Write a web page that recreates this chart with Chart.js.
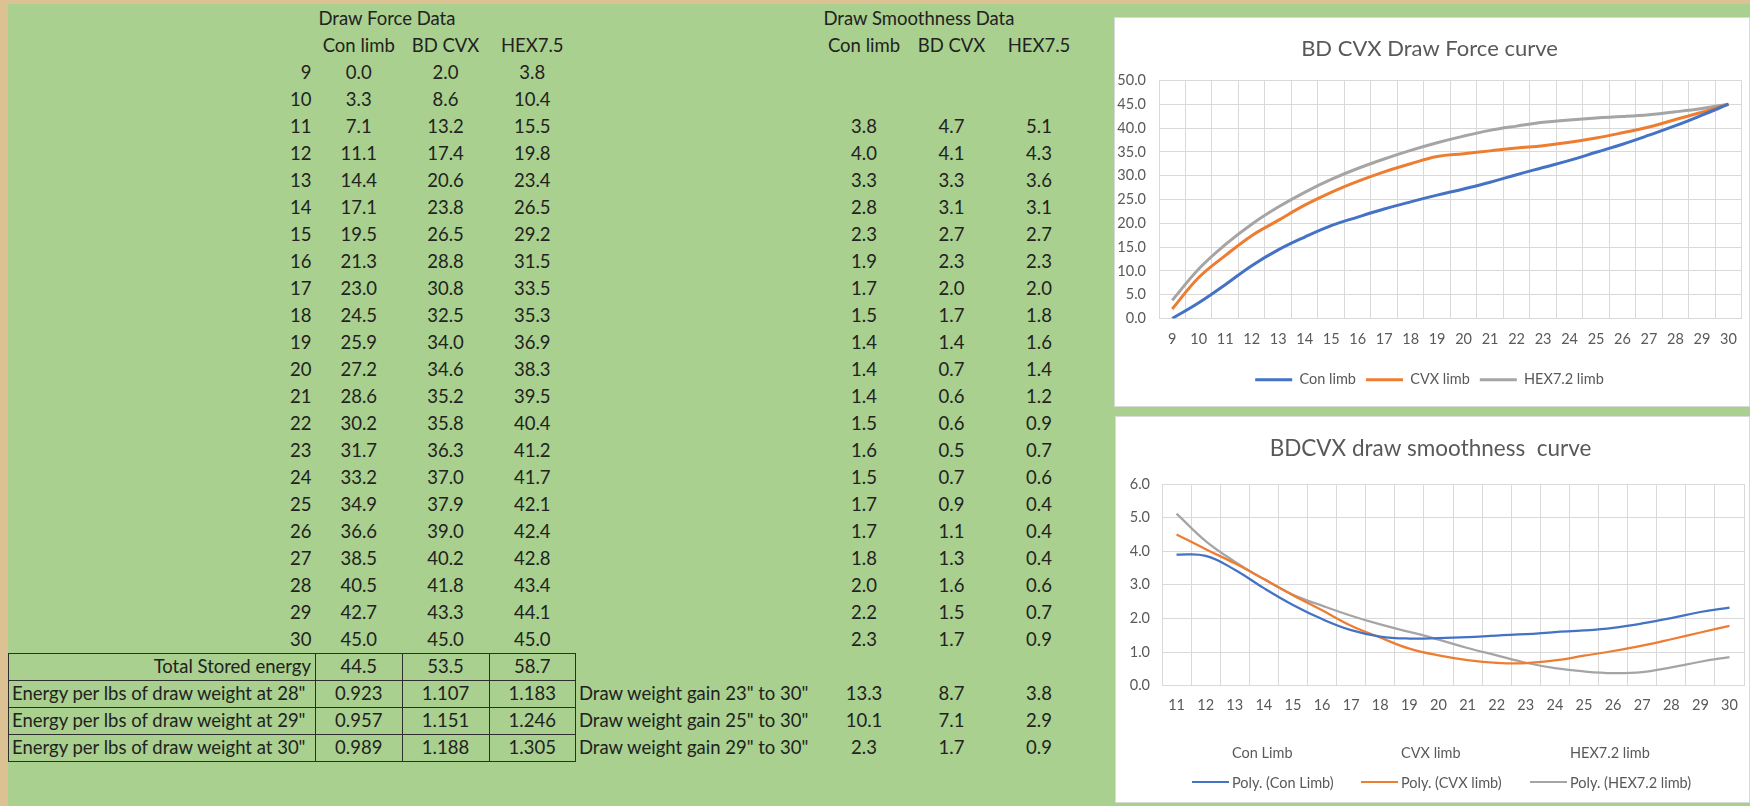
<!DOCTYPE html>
<html>
<head>
<meta charset="utf-8">
<title>BD CVX draw force</title>
<script src="https://cdn.jsdelivr.net/npm/chart.js@4.4.0/dist/chart.umd.min.js"></script>
<style>
    html, body { margin: 0; padding: 0; }
    body {
        width: 1750px; height: 806px; overflow: hidden; position: relative;
        background: #dcc293;
        font-family: Lato, "Open Sans", sans-serif;
    }
    #sheet { position: absolute; left: 8px; top: 4px; right: 0; bottom: 0; background: #a9d08e; }
    #dataTable {
        position: absolute; left: 8px; top: 5px; width: 1074px;
        border-collapse: collapse; table-layout: fixed;
        font-size: 18.5px; color: #222;
    }
    #dataTable tr { height: 27px; }
    #dataTable td { padding: 0 4px; white-space: nowrap; overflow: visible; line-height: 25px; text-align: center; }
    #dataTable td.l { text-align: left; padding-left: 3px; }
    #dataTable td.r { text-align: right; }
    #dataTable td.box { border: 1.5px solid #2e2e2e; }
    .chartBox { position: absolute; background: #fff; border: 1px solid #d9d9d9; box-sizing: border-box; }
    .chartBox canvas { display: block; }
    #forceBox { left: 1114px; top: 17px; width: 636px; height: 390px; }
    #smoothBox { left: 1115px; top: 416px; width: 635px; height: 387px; }
    .legRow { position: absolute; left: 76px; height: 20px; display: flex; font-size: 14.5px; color: #595959; }
    .legItem { width: 169px; display: flex; align-items: center; white-space: nowrap; }
    .legLine { width: 37px; height: 2px; margin-right: 3px; flex: none; }
</style>
</head>
<body>
<div id="sheet"></div>
<table id="dataTable">
    <colgroup>
        <col style="width:307px"><col style="width:86.5px"><col style="width:87px"><col style="width:86.5px">
        <col style="width:245px"><col style="width:87px"><col style="width:88px"><col style="width:87px">
    </colgroup>
    <tbody id="tableBody"></tbody>
</table>

<div class="chartBox" id="forceBox"><canvas id="forceChart"></canvas></div>
<div class="chartBox" id="smoothBox">
    <canvas id="smoothChart"></canvas>
    <div class="legRow" id="legRow1" style="top:325px"></div>
    <div class="legRow" id="legRow2" style="top:355px"></div>
</div>

<script>
// draw force table (lbs at each draw length)
const drawLengths = [9, 10, 11, 12, 13, 14, 15, 16, 17, 18, 19, 20, 21, 22, 23, 24, 25, 26, 27, 28, 29, 30];
const conForce = [0.0, 3.3, 7.1, 11.1, 14.4, 17.1, 19.5, 21.3, 23.0, 24.5, 25.9, 27.2, 28.6, 30.2, 31.7, 33.2, 34.9, 36.6, 38.5, 40.5, 42.7, 45.0];
const cvxForce = [2.0, 8.6, 13.2, 17.4, 20.6, 23.8, 26.5, 28.8, 30.8, 32.5, 34.0, 34.6, 35.2, 35.8, 36.3, 37.0, 37.9, 39.0, 40.2, 41.8, 43.3, 45.0];
const hexForce = [3.8, 10.4, 15.5, 19.8, 23.4, 26.5, 29.2, 31.5, 33.5, 35.3, 36.9, 38.3, 39.5, 40.4, 41.2, 41.7, 42.1, 42.4, 42.8, 43.4, 44.1, 45.0];

// draw smoothness table
const smoothLengths = [11, 12, 13, 14, 15, 16, 17, 18, 19, 20, 21, 22, 23, 24, 25, 26, 27, 28, 29, 30];
const conSmooth = [3.8, 4.0, 3.3, 2.8, 2.3, 1.9, 1.7, 1.5, 1.4, 1.4, 1.4, 1.5, 1.6, 1.5, 1.7, 1.7, 1.8, 2.0, 2.2, 2.3];
const cvxSmooth = [4.7, 4.1, 3.3, 3.1, 2.7, 2.3, 2.0, 1.7, 1.4, 0.7, 0.6, 0.6, 0.5, 0.7, 0.9, 1.1, 1.3, 1.6, 1.5, 1.7];
const hexSmooth = [5.1, 4.3, 3.6, 3.1, 2.7, 2.3, 2.0, 1.8, 1.6, 1.4, 1.2, 0.9, 0.7, 0.6, 0.4, 0.4, 0.4, 0.6, 0.7, 0.9];

// polynomial trendlines
const polyCon = [3.90, 3.86, 3.45, 2.90, 2.40, 1.98, 1.65, 1.46, 1.40, 1.41, 1.44, 1.49, 1.53, 1.59, 1.64, 1.72, 1.85, 2.01, 2.19, 2.32];
const polyCvx = [4.50, 4.06, 3.64, 3.17, 2.69, 2.24, 1.78, 1.43, 1.10, 0.90, 0.76, 0.68, 0.67, 0.75, 0.89, 1.03, 1.19, 1.38, 1.58, 1.78];
const polyHex = [5.12, 4.30, 3.69, 3.17, 2.70, 2.38, 2.08, 1.82, 1.60, 1.37, 1.12, 0.90, 0.68, 0.52, 0.42, 0.37, 0.40, 0.54, 0.71, 0.85];

const tableHeaders = ['Con limb', 'BD CVX', 'HEX7.5'];
const storedEnergy = [44.5, 53.5, 58.7];
const energyLabels = ['Energy per lbs of draw weight at 28"', 'Energy per lbs of draw weight at 29"', 'Energy per lbs of draw weight at 30"'];
const energyPerLbs = [[0.923, 1.107, 1.183], [0.957, 1.151, 1.246], [0.989, 1.188, 1.305]];
const gainLabels = ['Draw weight gain 23" to 30"', 'Draw weight gain 25" to 30"', 'Draw weight gain 29" to 30"'];
const weightGain = [[13.3, 8.7, 3.8], [10.1, 7.1, 2.9], [2.3, 1.7, 0.9]];

const forceSeries = ['Con limb', 'CVX limb', 'HEX7.2 limb'];
const smoothSeries = ['Con Limb', 'CVX limb', 'HEX7.2 limb'];
const forceTicks = { min: 0, max: 50, step: 5 };
const smoothTicks = { min: 0, max: 6, step: 1 };

const BLUE = '#4472C4', ORANGE = '#ED7D31', GRAY = '#A5A5A5';
const GRID = '#d9d9d9', TEXT = '#595959';

function addRow(cells) {
    const tr = document.createElement('tr');
    cells.forEach(c => {
        const td = document.createElement('td');
        if (c && typeof c === 'object') {
            td.textContent = c.t;
            if (c.c) td.className = c.c;
        } else {
            td.textContent = c === undefined || c === null ? '' : c;
        }
        tr.appendChild(td);
    });
    document.getElementById('tableBody').appendChild(tr);
}

function buildTable() {
    addRow(['', { t: 'Draw Force Data', c: 'l' }, '', '', '', { t: 'Draw Smoothness Data', c: 'l' }, '', '']);
    addRow(['', ...tableHeaders, '', ...tableHeaders]);
    drawLengths.forEach((len, i) => {
        const s = smoothLengths.indexOf(len);
        const smooth = s < 0 ? ['', '', ''] : [conSmooth[s], cvxSmooth[s], hexSmooth[s]].map(v => v.toFixed(1));
        addRow([{ t: len, c: 'r' }, conForce[i].toFixed(1), cvxForce[i].toFixed(1), hexForce[i].toFixed(1), '', ...smooth]);
    });
    addRow([{ t: 'Total Stored energy', c: 'r box' }, ...storedEnergy.map(v => ({ t: v.toFixed(1), c: 'box' })), '', '', '', '']);
    energyLabels.forEach((lab, i) => {
        addRow([{ t: lab, c: 'l box' }, ...energyPerLbs[i].map(v => ({ t: v.toFixed(3), c: 'box' })),
            { t: gainLabels[i], c: 'l' }, ...weightGain[i].map(v => v.toFixed(1))]);
    });
}

function axisFont() { return { family: 'Lato', size: 14.5 }; }

function renderForceChart() {
    const ctx = document.getElementById('forceChart');
    const colors = [BLUE, ORANGE, GRAY];
    const series = [conForce, cvxForce, hexForce];
    new Chart(ctx, {
        type: 'line',
        data: {
            labels: drawLengths,
            datasets: series.map((d, i) => ({
                label: forceSeries[i],
                data: d,
                borderColor: colors[i],
                backgroundColor: colors[i],
                borderWidth: 3,
                pointRadius: 0,
                tension: 0.4
            }))
        },
        options: {
            responsive: true,
            maintainAspectRatio: false,
            animation: false,
            layout: { padding: { left: 0, right: 5, top: 0, bottom: 9 } },
            plugins: {
                title: {
                    display: true,
                    text: 'BD CVX Draw Force curve',
                    color: TEXT,
                    font: { family: 'Lato', size: 22, weight: 'normal' },
                    padding: { top: 18, bottom: 18 }
                },
                legend: {
                    position: 'bottom',
                    labels: {
                        usePointStyle: true,
                        pointStyle: 'line',
                        pointStyleWidth: 37,
                        color: TEXT,
                        font: { family: 'Lato', size: 14.5 },
                        padding: 10
                    }
                },
                tooltip: { enabled: false }
            },
            scales: {
                x: {
                    offset: true,
                    grid: { offset: true, color: GRID, drawTicks: false },
                    border: { color: GRID },
                    ticks: { color: TEXT, font: axisFont(), padding: 12, maxRotation: 0, autoSkip: false },
                    afterFit: s => { s.height = 44; }
                },
                y: {
                    min: forceTicks.min,
                    max: forceTicks.max,
                    grid: { color: GRID, drawTicks: false },
                    border: { display: false },
                    ticks: { stepSize: forceTicks.step, color: TEXT, font: axisFont(), padding: 13, callback: v => v.toFixed(1) },
                    afterFit: s => { s.width = 44; }
                }
            }
        }
    });
}

function renderSmoothChart() {
    const ctx = document.getElementById('smoothChart');
    const colors = [BLUE, ORANGE, GRAY];
    const raw = [conSmooth, cvxSmooth, hexSmooth];
    const poly = [polyCon, polyCvx, polyHex];
    const datasets = [];
    // the raw series have no line and no marker in the original, only the trendlines show
    raw.forEach((d, i) => datasets.push({
        label: smoothSeries[i], data: d, showLine: false, pointRadius: 0, borderColor: colors[i]
    }));
    poly.forEach((d, i) => datasets.push({
        label: 'Poly. (' + smoothSeries[i] + ')', data: d, borderColor: colors[i],
        borderWidth: 2.25, pointRadius: 0, tension: 0.4
    }));

    new Chart(ctx, {
        type: 'line',
        data: { labels: smoothLengths, datasets: datasets },
        options: {
            responsive: true,
            maintainAspectRatio: false,
            animation: false,
            layout: { padding: { left: 0, right: 4, top: 0, bottom: 77 } },
            plugins: {
                title: {
                    display: true,
                    text: 'BDCVX draw smoothness  curve',
                    color: TEXT,
                    font: { family: 'Lato', size: 22.5, weight: 'normal' },
                    padding: { top: 18, bottom: 22 }
                },
                legend: { display: false },
                tooltip: { enabled: false }
            },
            scales: {
                x: {
                    offset: true,
                    grid: { offset: true, color: GRID, drawTicks: false },
                    border: { color: GRID },
                    ticks: { color: TEXT, font: axisFont(), padding: 11, maxRotation: 0, autoSkip: false }
                },
                y: {
                    min: smoothTicks.min,
                    max: smoothTicks.max,
                    grid: { color: GRID, drawTicks: false },
                    border: { display: false },
                    ticks: { stepSize: smoothTicks.step, color: TEXT, font: axisFont(), padding: 12, callback: v => v.toFixed(1) },
                    afterFit: s => { s.width = 46; }
                }
            }
        }
    });

    // two-row legend like Excel: raw series (blank symbol) then the trendlines
    const row1 = document.getElementById('legRow1');
    const row2 = document.getElementById('legRow2');
    smoothSeries.forEach((name, i) => {
        row1.insertAdjacentHTML('beforeend',
            '<div class="legItem"><span class="legLine"></span><span></span></div>');
        row1.lastChild.lastChild.textContent = name;
        row2.insertAdjacentHTML('beforeend',
            '<div class="legItem"><span class="legLine" style="background:' + colors[i] + '"></span><span></span></div>');
        row2.lastChild.lastChild.textContent = 'Poly. (' + name + ')';
    });
}

buildTable();
renderForceChart();
renderSmoothChart();
</script>
</body>
</html>
